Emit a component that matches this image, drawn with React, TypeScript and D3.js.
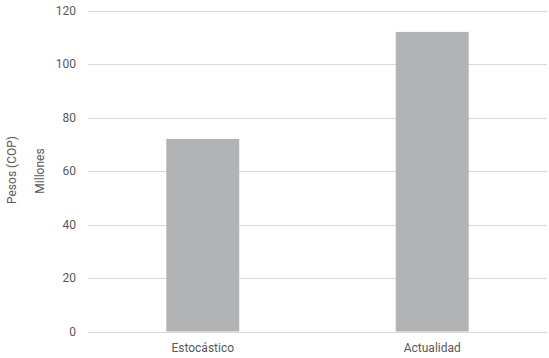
import React from "react";
import * as d3 from "d3";

const categories = ["Estocástico", "Actualidad"];
const values = [72, 112];
const yTicks = [0, 20, 40, 60, 80, 100, 120];

export default function App() {
  const W = 549, H = 358;
  const left = 88, right = 547, top = 10.5, bottom = 331.5;
  const x = d3.scaleBand<string>().domain(categories).range([left, right]).padding(0);
  const y = d3.scaleLinear().domain([0, 120]).range([bottom, top]);
  const bw = x.bandwidth() * 0.318;
  const font = "Roboto, 'Open Sans', sans-serif";
  const txt = "#595959";
  return (
    <svg width={W} height={H} style={{ position: "absolute", left: 0, top: 0 }}>
      <rect width={W} height={H} fill="#fff" />
      {yTicks.map((t) => (
        <g key={t}>
          <line x1={left} x2={right} y1={Math.round(y(t)) + 0.5} y2={Math.round(y(t)) + 0.5} stroke="#d9d9d9" strokeWidth={1} />
          <text x={76} y={y(t)} dy="0.35em" textAnchor="end" fontFamily={font} fontSize={12} fill={txt}>{t}</text>
        </g>
      ))}
      {categories.map((c, i) => {
        const cx = (x(c) as number) + x.bandwidth() / 2;
        return (
          <g key={c}>
            <rect x={cx - bw / 2} y={y(values[i])} width={bw} height={y(0) - y(values[i])} fill="#b2b3b5" />
            <text x={cx} y={348} dy="0.35em" textAnchor="middle" fontFamily={font} fontSize={12} fill={txt}>{c}</text>
          </g>
        );
      })}
      <text transform={`translate(12,170) rotate(-90)`} dy="0.35em" textAnchor="middle" fontFamily={font} fontSize={12} fill={txt}>Pesos (COP)</text>
      <text transform={`translate(40,171) rotate(-90)`} dy="0.35em" textAnchor="middle" fontFamily={font} fontSize={12} fill={txt}>Millones</text>
    </svg>
  );
}
